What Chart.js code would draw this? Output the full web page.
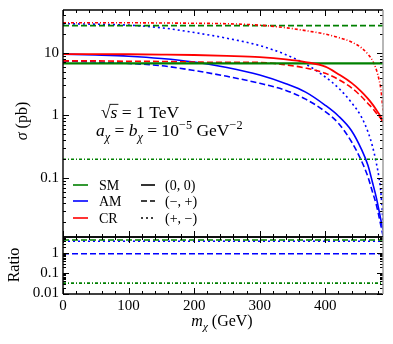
<!DOCTYPE html>
<html>
<head>
<meta charset="utf-8">
<script src="https://cdn.jsdelivr.net/npm/chart.js@4.4.1/dist/chart.umd.min.js"></script>
<style>
  html, body { margin: 0; padding: 0; background: #fff; }
  #wrap { position: relative; width: 393px; height: 344px; overflow: hidden; }
  #topBox { position: absolute; left: 0; top: 0; }
  #botBox { position: absolute; left: 0; top: 230px; }
</style>
</head>
<body>
<div id="wrap">
  <div id="topBox"><canvas id="main-chart" width="393" height="240"></canvas></div>
  <div id="botBox"><canvas id="ratio-chart" width="393" height="114"></canvas></div>
</div>
<script>
var massGrid = [0, 50, 100, 150, 200, 250, 300, 340, 370, 400, 420, 440, 455, 465, 472, 478, 482, 485, 488];
var massEnds = [0, 488];

// sigma (pb), SM couplings - flat lines
var smZero = [6.75, 6.75];
var smMinusPlus = [27, 27];
var smPlusMinus = [0.2, 0.2];

// sigma (pb), AM
var amZero = [9.5, 9.2, 8.8, 8.1, 7.1, 5.8, 4.4, 3.2, 2.35, 1.45, 0.98, 0.57, 0.29, 0.16, 0.085, 0.048, 0.03, 0.021, 0.015];
var amMinusPlus = [7.4, 7.1, 6.75, 6.2, 5.2, 4.2, 3.25, 2.5, 1.82, 1.15, 0.75, 0.38, 0.19, 0.105, 0.06, 0.037, 0.024, 0.017, 0.012];
var amPlusMinus = [29, 28.5, 27.5, 25, 21, 17, 13, 9.3, 6.6, 4.1, 2.75, 1.6, 0.95, 0.55, 0.32, 0.17, 0.1, 0.055, 0.02];

// sigma (pb), CR
var crZero = [9.5, 9.5, 9.45, 9.35, 9.2, 8.9, 8.5, 7.85, 7.1, 6.0, 4.55, 3.3, 2.4, 1.85, 1.5, 1.22, 1.05, 0.92, 0.78];
var crMinusPlus = [7.4, 7.4, 7.3, 7.25, 7.1, 7.0, 7.0, 6.4, 5.7, 4.7, 3.75, 2.75, 2.0, 1.55, 1.3, 1.08, 0.96, 0.88, 0.78];
var crPlusMinus = [30, 30, 30, 29.8, 29.5, 29, 27.5, 25, 22.5, 19.8, 17.5, 14.8, 12, 9.5, 7.5, 5.3, 3.7, 2.5, 1.2];

// ratio panel - flat lines
var ratioSmMinusPlus = [4.6, 4.6];
var ratioAmPlusMinus = [4.0, 4.0];
var ratioAmMinusPlus = [0.95, 0.95];
var ratioSmPlusMinus = [0.033, 0.033];

// axes
var massTicks = [0, 100, 200, 300, 400];
var sigmaTicks = [0.1, 1, 10];
var ratioTicks = [0.01, 0.1, 1];
var massRange = [0, 488];
var sigmaRange = [0.0115, 48];
var ratioRange = [0.0095, 6.5];

var GREEN = 'rgb(0,128,0)';
var BLUE = '#0000ff';
var RED = '#ff0000';
var SERIF = '"Liberation Serif", "DejaVu Serif", serif';

var SOLID = [];
var DASHED = [6, 3];
var DASHDOT = [3, 2, 1, 2];
var DOTTED = [2, 3];

Chart.defaults.font.family = SERIF;
Chart.defaults.color = '#000';

function toPoints(xs, ys) {
    return xs.map(function (x, i) { return {x: x, y: ys[i]}; });
}

function lineSet(label, xs, ys, color, dash, width) {
    return {
        label: label,
        data: toPoints(xs, ys),
        borderColor: color,
        backgroundColor: color,
        borderDash: dash,
        borderWidth: width || 1.6,
        pointRadius: 0,
        fill: false,
        cubicInterpolationMode: 'monotone'
    };
}

// draw a run of text pieces: [text, italic?, 'sub'|'sup'|null, 'over'?]
function richWidth(ctx, parts, size) {
    var w = 0;
    parts.forEach(function (p) {
        var fs = p[2] ? size * 0.7 : size;
        ctx.font = (p[1] ? 'italic ' : '') + fs + 'px ' + SERIF;
        w += ctx.measureText(p[0]).width;
    });
    return w;
}

function drawRich(ctx, x, y, parts, size) {
    var cx = x;
    parts.forEach(function (p) {
        var fs = p[2] ? size * 0.7 : size;
        ctx.font = (p[1] ? 'italic ' : '') + fs + 'px ' + SERIF;
        var dy = p[2] === 'sub' ? size * 0.28 : (p[2] === 'sup' ? -size * 0.42 : 0);
        ctx.fillText(p[0], cx, y + dy);
        if (p[3] === 'over') {
            var w = ctx.measureText(p[0]).width;
            ctx.beginPath();
            ctx.lineWidth = 0.9;
            ctx.moveTo(cx - 1, y - size * 0.78);
            ctx.lineTo(cx + w + 1, y - size * 0.78);
            ctx.stroke();
        }
        cx += ctx.measureText(p[0]).width;
    });
}

function seg(ctx, x1, y1, x2, y2) {
    ctx.beginPath();
    ctx.moveTo(x1, y1);
    ctx.lineTo(x2, y2);
    ctx.stroke();
}

// inward ticks + frame, the way the physics plot has them
var frameTicks = {
    id: 'frameTicks',
    afterDraw: function (chart) {
        var ctx = chart.ctx, a = chart.chartArea;
        var xs = chart.scales.x, ys = chart.scales.y;
        ctx.save();
        ctx.strokeStyle = '#000';
        ctx.lineWidth = 1;
        for (var m = 0; m <= xs.max; m += 20) {
            var px = Math.round(xs.getPixelForValue(m)) + 0.5;
            var len = (m % 100 === 0) ? 6 : 3;
            seg(ctx, px, a.top, px, a.top + len);
            seg(ctx, px, a.bottom, px, a.bottom - len);
        }
        var d0 = Math.floor(Math.log10(ys.min)), d1 = Math.ceil(Math.log10(ys.max));
        for (var d = d0; d <= d1; d++) {
            for (var k = 1; k <= 9; k++) {
                var v = k * Math.pow(10, d);
                if (v < ys.min || v > ys.max) continue;
                var py = Math.round(ys.getPixelForValue(v)) + 0.5;
                var l = (k === 1) ? 6 : 3;
                seg(ctx, a.left, py, a.left + l, py);
                seg(ctx, a.right, py, a.right - l, py);
            }
        }
        ctx.lineWidth = 1.4;
        seg(ctx, a.left, a.top, a.right, a.top);
        seg(ctx, a.left, a.bottom, a.right, a.bottom);
        seg(ctx, a.left, a.top, a.left, a.bottom);
        ctx.strokeStyle = '#999';
        seg(ctx, a.right, a.top, a.right, a.bottom);
        ctx.restore();
    }
};

// legend, annotation and y title of the upper panel
var mainDecor = {
    id: 'mainDecor',
    afterDraw: function (chart) {
        var ctx = chart.ctx;
        ctx.save();
        ctx.fillStyle = '#000';
        ctx.strokeStyle = '#000';
        ctx.textBaseline = 'alphabetic';

        // annotation
        var l1 = [['\u221A', false, null], ['s', true, null, 'over'], [' = 1 TeV', false, null]];
        drawRich(ctx, 101, 118, l1, 17.5);
        var l2 = [['a', true, null], ['\u03C7', true, 'sub'], [' = ', false, null], ['b', true, null], ['\u03C7', true, 'sub'],
            [' = 10', false, null], ['\u22125', false, 'sup'], [' GeV', false, null], ['\u22122', false, 'sup']];
        drawRich(ctx, 96, 136, l2, 17.5);

        // legend
        var rows = [['SM', GREEN, SOLID, '(0, 0)', 185], ['AM', BLUE, DASHED, '(\u2212, +)', 201], ['CR', RED, DOTTED, '(+, \u2212)', 218]];
        ctx.font = '14px ' + SERIF;
        ctx.textBaseline = 'middle';
        rows.forEach(function (r) {
            ctx.lineWidth = 1.6;
            ctx.setLineDash([]);
            ctx.strokeStyle = r[1];
            seg(ctx, 73, r[4], 88, r[4]);
            ctx.fillText(r[0], 99, r[4] + 1);
            ctx.strokeStyle = '#000';
            ctx.setLineDash(r[2]);
            seg(ctx, 141, r[4], 155, r[4]);
            ctx.setLineDash([]);
            ctx.fillText(r[3], 165, r[4] + 1);
        });

        // y title
        ctx.translate(27, 121);
        ctx.rotate(-Math.PI / 2);
        ctx.textBaseline = 'alphabetic';
        var yt = [['\u03C3', true, null], [' (pb)', false, null]];
        var w = richWidth(ctx, yt, 16);
        drawRich(ctx, -w / 2, 0, yt, 16);
        ctx.restore();
    }
};

var ratioDecor = {
    id: 'ratioDecor',
    afterDraw: function (chart) {
        var ctx = chart.ctx;
        ctx.save();
        ctx.fillStyle = '#000';
        var xt = [['m', true, null], ['\u03C7', true, 'sub'], [' (GeV)', false, null]];
        var w = richWidth(ctx, xt, 16);
        drawRich(ctx, 222 - w / 2, 96, xt, 16);
        ctx.translate(19, 35);
        ctx.rotate(-Math.PI / 2);
        ctx.font = '16px ' + SERIF;
        ctx.textAlign = 'center';
        ctx.fillText('Ratio', 0, 0);
        ctx.restore();
    }
};

function logAxis(range, ticks) {
    return {
        type: 'logarithmic',
        min: range[0],
        max: range[1],
        grid: {display: false, drawTicks: false},
        border: {display: false},
        afterBuildTicks: function (scale) {
            scale.ticks = ticks.map(function (v) { return {value: v}; });
        },
        afterFit: function (scale) {
            scale.width = 63;
            // no extra room for half tick labels at the ends
            scale.paddingTop = 0;
            scale.paddingBottom = 0;
        },
        ticks: {
            padding: 4,
            font: {size: 15, family: SERIF},
            color: '#000',
            callback: function (v) { return String(v); }
        }
    };
}

// Main panel
function mainChart() {
    var ctx = document.getElementById('main-chart').getContext('2d');
    return new Chart(ctx, {
        type: 'line',
        data: {
            datasets: [
                lineSet('CR (0,0)', massGrid, crZero, RED, SOLID, 1.8),
                lineSet('SM (0,0)', massEnds, smZero, GREEN, SOLID, 2.4),
                lineSet('CR (-,+)', massGrid, crMinusPlus, RED, DASHED),
                lineSet('CR (+,-)', massGrid, crPlusMinus, RED, DASHDOT),
                lineSet('SM (-,+)', massEnds, smMinusPlus, GREEN, DASHED),
                lineSet('SM (+,-)', massEnds, smPlusMinus, GREEN, DASHDOT),
                lineSet('AM (0,0)', massGrid, amZero, BLUE, SOLID),
                lineSet('AM (-,+)', massGrid, amMinusPlus, BLUE, DASHED),
                lineSet('AM (+,-)', massGrid, amPlusMinus, BLUE, DOTTED)
            ]
        },
        options: {
            responsive: false,
            animation: false,
            devicePixelRatio: 1,
            layout: {padding: {top: 10, right: 10, bottom: 3, left: 0}},
            plugins: {legend: {display: false}, tooltip: {enabled: false}},
            scales: {
                x: {type: 'linear', min: massRange[0], max: massRange[1], display: false},
                y: logAxis(sigmaRange, sigmaTicks)
            }
        },
        plugins: [frameTicks, mainDecor]
    });
}

// Ratio panel
function ratioChart() {
    var ctx = document.getElementById('ratio-chart').getContext('2d');
    return new Chart(ctx, {
        type: 'line',
        data: {
            datasets: [
                lineSet('SM (-,+)', massEnds, ratioSmMinusPlus, GREEN, DASHED),
                lineSet('AM (+,-)', massEnds, ratioAmPlusMinus, BLUE, DOTTED),
                lineSet('AM (-,+)', massEnds, ratioAmMinusPlus, BLUE, DASHED),
                lineSet('SM (+,-)', massEnds, ratioSmPlusMinus, GREEN, DASHDOT)
            ]
        },
        options: {
            responsive: false,
            animation: false,
            devicePixelRatio: 1,
            layout: {padding: {top: 7, right: 10, bottom: 0, left: 0}},
            plugins: {legend: {display: false}, tooltip: {enabled: false}},
            scales: {
                x: {
                    type: 'linear',
                    min: massRange[0],
                    max: massRange[1],
                    grid: {display: false, drawTicks: false},
                    border: {display: false},
                    afterBuildTicks: function (scale) {
                        scale.ticks = massTicks.map(function (v) { return {value: v}; });
                    },
                    afterFit: function (scale) {
                        scale.height = 50;
                        scale.paddingLeft = 0;
                        scale.paddingRight = 0;
                    },
                    ticks: {padding: 3, maxRotation: 0, font: {size: 15, family: SERIF}, color: '#000'}
                },
                y: logAxis(ratioRange, ratioTicks)
            }
        },
        plugins: [frameTicks, ratioDecor]
    });
}

mainChart();
ratioChart();
</script>
</body>
</html>
